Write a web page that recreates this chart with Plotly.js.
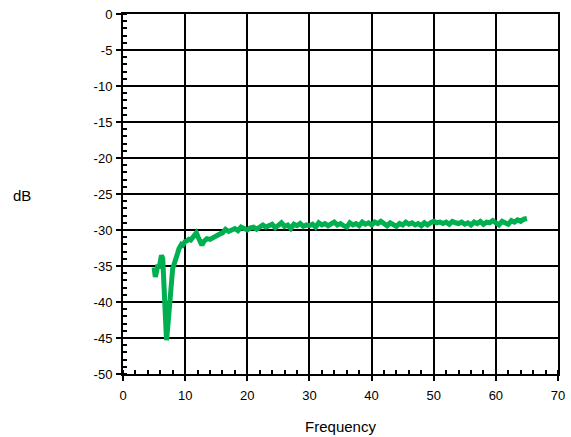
<!DOCTYPE html>
<html>
<head>
<meta charset="utf-8">
<script src="https://cdn.plot.ly/plotly-3.0.1.min.js"></script>
<style>html,body{margin:0;padding:0;background:#fff;}#chart{width:571px;height:437px;}</style>
</head>
<body>
<div id="chart"></div>
<script>
const freq = [5.0,5.2,5.4,5.6,5.8,6.0,6.2,6.4,6.6,6.8,7.0,7.2,7.4,7.6,7.8,8.0,8.2,8.4,8.6,8.8,9.0,9.2,9.4,9.6,9.8,10.0,10.3,10.6,10.9,11.2,11.5,11.8,12.1,12.4,12.7,13.0,
13.5,14.0,14.5,15.0,15.5,16.0,16.5,17.0,17.5,18.0,18.5,19.0,19.5,20.0,20.5,21.0,21.5,22.0,22.5,23.0,23.5,24.0,24.5,25.0,25.5,26.0,26.5,27.0,27.5,28.0,28.5,29.0,29.5,30.0,
30.5,31.0,31.5,32.0,32.5,33.0,33.5,34.0,34.5,35.0,35.5,36.0,36.5,37.0,37.5,38.0,38.5,39.0,39.5,40.0,40.5,41.0,41.5,42.0,42.5,43.0,43.5,44.0,44.5,45.0,45.5,46.0,46.5,47.0,47.5,48.0,48.5,49.0,49.5,50.0,
50.5,51.0,51.5,52.0,52.5,53.0,53.5,54.0,54.5,55.0,55.5,56.0,56.5,57.0,57.5,58.0,58.5,59.0,59.5,60.0,60.5,61.0,61.5,62.0,62.5,63.0,63.5,64.0,64.5,65.0];
const dB = [-35.2,-36.5,-35.8,-34.8,-35.3,-34.2,-33.5,-34.0,-37.5,-42.0,-45.3,-43.5,-41.0,-38.0,-36.5,-35.3,-34.8,-34.0,-33.6,-33.2,-32.6,-32.3,-32.0,-32.1,-31.8,-31.6,-31.5,-31.3,-31.4,-31.0,-30.8,-30.4,-31.0,-31.5,-32.1,-31.6,
-31.2,-31.3,-31.0,-30.9,-30.6,-30.4,-29.9,-30.2,-30.0,-29.8,-30.1,-29.6,-29.8,-30.0,-29.7,-29.6,-29.9,-29.5,-29.3,-29.6,-29.4,-29.2,-29.7,-29.4,-29.0,-29.5,-29.3,-29.8,-29.2,-29.4,-29.1,-29.5,-29.3,-29.4,
-29.2,-29.6,-29.0,-29.3,-29.1,-29.4,-29.2,-28.9,-29.3,-29.1,-29.4,-29.6,-29.0,-29.3,-29.1,-29.4,-28.9,-29.2,-29.0,-29.3,-28.9,-29.1,-28.8,-29.2,-29.4,-29.0,-29.2,-29.5,-29.1,-29.3,-28.9,-29.2,-29.0,-29.3,-29.1,-29.4,-29.0,-29.3,-29.0,-28.8,
-29.0,-28.9,-29.1,-28.9,-29.2,-28.8,-29.0,-29.1,-28.9,-29.2,-29.0,-29.3,-28.9,-29.1,-28.8,-29.2,-28.9,-29.0,-28.7,-29.1,-29.3,-28.8,-29.0,-29.2,-28.7,-28.9,-28.6,-28.8,-28.5,-28.4];

const xTickVals = [0, 10, 20, 30, 40, 50, 60, 70];
const xTickText = ['0', '10', '20', '30', '40', '50', '60', '70'];
const yTickVals = [0, -5, -10, -15, -20, -25, -30, -35, -40, -45, -50];
const yTickText = ['0', '-5', '-10', '-15', '-20', '-25', '-30', '-35', '-40', '-45', '-50'];

const font = {family: '"Liberation Sans", Arial, sans-serif', size: 13, color: '#000'};
const axisCommon = {
  showline: true, linecolor: '#000', linewidth: 2, mirror: true,
  showgrid: true, gridcolor: '#000', gridwidth: 2,
  zeroline: false,
  ticks: 'outside', ticklen: 5, tickwidth: 2, tickcolor: '#000',
  tickfont: font, tickmode: 'array'
};
const layout = {
  width: 571, height: 437,
  margin: {l: 123, r: 13, t: 14, b: 63},
  paper_bgcolor: '#fff', plot_bgcolor: '#fff',
  showlegend: false,
  font: font,
  xaxis: Object.assign({}, axisCommon, {
    range: [0, 70], tickvals: xTickVals, ticktext: xTickText, ticklabelstandoff: 3,
    minor: {tickmode: 'linear', tick0: 0, dtick: 2, ticks: 'inside', ticklen: 4, tickwidth: 2, tickcolor: '#000', showgrid: false},
    title: {text: 'Frequency', font: {family: font.family, size: 15, color: '#000'}, standoff: 20}
  }),
  yaxis: Object.assign({}, axisCommon, {
    range: [-50, 0], tickvals: yTickVals, ticktext: yTickText, ticklabelstandoff: 1,
    minor: {tickmode: 'linear', tick0: 0, dtick: 1, ticks: 'inside', ticklen: 4, tickwidth: 2, tickcolor: '#000', showgrid: false}
  }),
  annotations: [{
    text: 'dB', xref: 'paper', yref: 'paper', x: -0.232, y: 0.496,
    xanchor: 'center', yanchor: 'middle', showarrow: false,
    font: {family: font.family, size: 15, color: '#000'}
  }]
};
Plotly.newPlot('chart', [{
  x: freq, y: dB, type: 'scatter', mode: 'lines',
  line: {color: '#00b050', width: 5}
}], layout, {displayModeBar: false, staticPlot: true});
</script>
</body>
</html>
